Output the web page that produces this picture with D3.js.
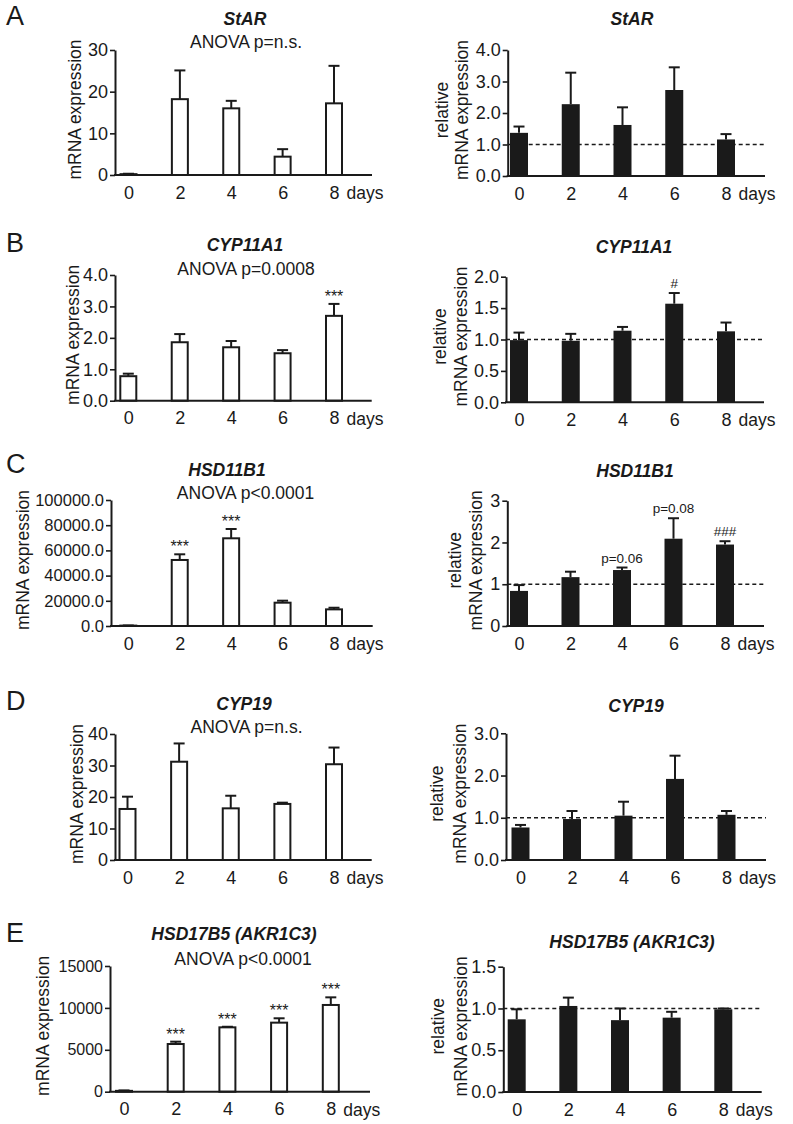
<!DOCTYPE html>
<html>
<head>
<meta charset="utf-8">
<script src="https://cdn.jsdelivr.net/npm/d3@7"></script>
<style>
  html, body { margin: 0; padding: 0; background: #fff; }
  svg { display: block; }
  text { font-family: "Liberation Sans", Arial, Helvetica, sans-serif; fill: #1a1a1a; }
</style>
</head>
<body>
<svg id="chart" width="793" height="1124"></svg>
<script>
// ---------------- DATA ----------------
const days = [0, 2, 4, 6, 8];

// A: StAR
const starMean = [0.2, 18.2, 16.0, 4.4, 17.2];
const starSem = [0.1, 6.9, 1.8, 1.8, 9.0];
const starTicks = [0, 10, 20, 30];
const starRelMean = [1.37, 2.28, 1.62, 2.73, 1.16];
const starRelSem = [0.20, 1.00, 0.56, 0.72, 0.17];
const starRelTicks = [0, 1, 2, 3, 4];

// B: CYP11A1
const cypMean = [0.78, 1.86, 1.70, 1.51, 2.70];
const cypSem = [0.08, 0.26, 0.20, 0.10, 0.38];
const cypTicks = [0, 1, 2, 3, 4];
const cypRelMean = [0.99, 0.98, 1.14, 1.57, 1.13];
const cypRelSem = [0.12, 0.11, 0.06, 0.17, 0.14];
const cypRelTicks = [0, 0.5, 1, 1.5, 2];

// C: HSD11B1
const hsdMean = [300, 52400, 69600, 18500, 13200];
const hsdSem = [100, 4500, 7400, 1600, 1300];
const hsdTicks = [0, 20000, 40000, 60000, 80000, 100000];
const hsdRelMean = [0.84, 1.17, 1.34, 2.09, 1.95];
const hsdRelSem = [0.14, 0.13, 0.06, 0.49, 0.08];
const hsdRelTicks = [0, 1, 2, 3];

// D: CYP19
const cyp19Mean = [16.2, 31.2, 16.4, 17.8, 30.4];
const cyp19Sem = [3.9, 5.8, 4.0, 0.4, 5.3];
const cyp19Ticks = [0, 10, 20, 30, 40];
const cyp19RelMean = [0.77, 0.97, 1.05, 1.92, 1.07];
const cyp19RelSem = [0.06, 0.19, 0.33, 0.55, 0.09];
const cyp19RelTicks = [0, 1, 2, 3];

// E: HSD17B5 (AKR1C3)
const akrMean = [100, 5690, 7680, 8240, 10350];
const akrSem = [50, 280, 70, 520, 910];
const akrTicks = [0, 5000, 10000, 15000];
const akrRelMean = [0.87, 1.03, 0.86, 0.89, 0.99];
const akrRelSem = [0.12, 0.10, 0.14, 0.07, 0.01];
const akrRelTicks = [0, 0.5, 1, 1.5];

// titles / annotations
const panelLetters = ["A", "B", "C", "D", "E"];
const geneNames = ["StAR", "CYP11A1", "HSD11B1", "CYP19", "HSD17B5 (AKR1C3)"];
const anovaTexts = ["ANOVA p=n.s.", "ANOVA p=0.0008", "ANOVA p<0.0001", "ANOVA p=n.s.", "ANOVA p<0.0001"];
const cypMarks = [{day: 8, text: "***"}];
const cypRelMarks = [{day: 6, text: "#"}];
const hsdMarks = [{day: 2, text: "***"}, {day: 4, text: "***"}];
const hsdRelMarks = [{day: 4, text: "p=0.06"}, {day: 6, text: "p=0.08"}, {day: 8, text: "###"}];
const akrMarks = [{day: 2, text: "***"}, {day: 4, text: "***"}, {day: 6, text: "***"}, {day: 8, text: "***"}];

// ---------------- LAYOUT ----------------
const panels = [
  // row A
  {mean: starMean, sem: starSem, ticks: starTicks, fmt: "d", rel: false, marks: [],
   top: 50, bottom: 175, axisX: 115, endX: 372, c0: 128.5, c8: 334, tickFont: 18,
   title: geneNames[0], titleX: 245, titleY: 25, anova: anovaTexts[0], anovaX: 246, anovaY: 48, ylx: [75]},
  {mean: starRelMean, sem: starRelSem, ticks: starRelTicks, fmt: ".1f", rel: true, marks: [],
   top: 50, bottom: 176, axisX: 507.7, endX: 765, c0: 519, c8: 726, tickFont: 18,
   title: geneNames[0], titleX: 632, titleY: 25, ylx: [441.5, 461.5]},
  // row B
  {mean: cypMean, sem: cypSem, ticks: cypTicks, fmt: ".1f", rel: false, marks: cypMarks,
   top: 275, bottom: 400.7, axisX: 115, endX: 371.7, c0: 128.3, c8: 334, tickFont: 18,
   title: geneNames[1], titleX: 245, titleY: 250.5, anova: anovaTexts[1], anovaX: 246, anovaY: 275, ylx: [73]},
  {mean: cypRelMean, sem: cypRelSem, ticks: cypRelTicks, fmt: ".1f", rel: true, marks: cypRelMarks,
   top: 276.7, bottom: 402.3, axisX: 506, endX: 764, c0: 519, c8: 726, tickFont: 18,
   title: geneNames[1], titleX: 634, titleY: 253, ylx: [440, 461]},
  // row C
  {mean: hsdMean, sem: hsdSem, ticks: hsdTicks, fmt: ".1f", rel: false, marks: hsdMarks,
   top: 500, bottom: 626, axisX: 111, endX: 372.7, c0: 128.3, c8: 334, tickFont: 16.5,
   title: geneNames[2], titleX: 227, titleY: 476, anova: anovaTexts[2], anovaX: 245.5, anovaY: 499, ylx: [23]},
  {mean: hsdRelMean, sem: hsdRelSem, ticks: hsdRelTicks, fmt: "d", rel: true, marks: hsdRelMarks,
   top: 500.7, bottom: 626, axisX: 507.3, endX: 764, c0: 519, c8: 725, tickFont: 18,
   title: geneNames[2], titleX: 635, titleY: 476.5, ylx: [455, 476]},
  // row D
  {mean: cyp19Mean, sem: cyp19Sem, ticks: cyp19Ticks, fmt: "d", rel: false, marks: [],
   top: 734, bottom: 860, axisX: 115, endX: 371.7, c0: 127.5, c8: 334, tickFont: 18,
   title: geneNames[3], titleX: 244, titleY: 710, anova: anovaTexts[3], anovaX: 246.5, anovaY: 733, ylx: [77]},
  {mean: cyp19RelMean, sem: cyp19RelSem, ticks: cyp19RelTicks, fmt: ".1f", rel: true, marks: [],
   top: 733.3, bottom: 860, axisX: 506, endX: 766, c0: 520.5, c8: 726.5, tickFont: 18,
   title: geneNames[3], titleX: 636, titleY: 711.5, ylx: [437, 460]},
  // row E
  {mean: akrMean, sem: akrSem, ticks: akrTicks, fmt: "d", rel: false, marks: akrMarks,
   top: 966, bottom: 1091.7, axisX: 110, endX: 370, c0: 124, c8: 330.8, tickFont: 16,
   title: geneNames[4], titleX: 234, titleY: 940, anova: anovaTexts[4], anovaX: 243, anovaY: 965, ylx: [43]},
  {mean: akrRelMean, sem: akrRelSem, ticks: akrRelTicks, fmt: ".1f", rel: true, marks: [],
   top: 966.7, bottom: 1092, axisX: 503.3, endX: 761.7, c0: 516.7, c8: 723.3, tickFont: 18,
   title: geneNames[4], titleX: 632, titleY: 948, ylx: [438, 461]}
];
const letterY = [25, 252, 473, 710, 942];

// ---------------- DRAW ----------------
const svg = d3.select("#chart");
const ink = "#1a1a1a";
const barW = 18;
const capW = 11;

panelLetters.forEach((L, i) => {
  svg.append("text").attr("x", 6).attr("y", letterY[i])
    .attr("font-size", 27).text(L);
});

panels.forEach(p => {
  const g = svg.append("g");
  const ymax = p.ticks[p.ticks.length - 1];
  const y = d3.scaleLinear().domain([0, ymax]).range([p.bottom, p.top]);
  const x = d3.scaleLinear().domain([0, 8]).range([p.c0, p.c8]);

  // dashed reference at 1.0
  if (p.rel) {
    g.append("line")
      .attr("x1", p.axisX).attr("x2", p.endX)
      .attr("y1", y(1)).attr("y2", y(1))
      .attr("stroke", ink).attr("stroke-width", 1.6)
      .attr("stroke-dasharray", "4,3");
  }

  // error bars (upper only)
  const eg = g.append("g").attr("stroke", ink).attr("stroke-width", 2);
  days.forEach((d, i) => {
    const top = y(p.mean[i] + p.sem[i]);
    eg.append("line").attr("x1", x(d)).attr("x2", x(d))
      .attr("y1", y(p.mean[i])).attr("y2", top);
    eg.append("line").attr("x1", x(d) - capW / 2).attr("x2", x(d) + capW / 2)
      .attr("y1", top).attr("y2", top);
  });

  // bars
  g.append("g").selectAll("rect").data(days).join("rect")
    .attr("x", (d) => x(d) - (p.rel ? barW / 2 : barW / 2 - 1))
    .attr("width", p.rel ? barW : barW - 2)
    .attr("y", (d, i) => y(p.mean[i]))
    .attr("height", (d, i) => Math.max(0, p.bottom - y(p.mean[i])))
    .attr("fill", p.rel ? ink : "#fff")
    .attr("stroke", p.rel ? "none" : ink)
    .attr("stroke-width", 2);

  // y axis
  const ya = d3.axisLeft(y).tickValues(p.ticks).tickFormat(d3.format(p.fmt))
    .tickSize(5).tickPadding(2).tickSizeOuter(0);
  const yg = g.append("g").attr("transform", `translate(${p.axisX},0)`).call(ya);
  yg.select(".domain").attr("stroke", ink).attr("stroke-width", 2);
  yg.selectAll(".tick line").attr("stroke", ink).attr("stroke-width", 1.6);
  yg.selectAll(".tick text").attr("font-size", p.tickFont)
    .attr("font-family", "'Liberation Sans', Arial, sans-serif").attr("fill", ink);

  // x axis line
  g.append("line").attr("x1", p.axisX - 1).attr("x2", p.endX)
    .attr("y1", p.bottom).attr("y2", p.bottom)
    .attr("stroke", ink).attr("stroke-width", 2);

  // x labels
  const xa = d3.axisBottom(x).tickValues(days).tickFormat(d3.format("d"))
    .tickSize(0).tickPadding(11);
  const xg = g.append("g").attr("transform", `translate(0,${p.bottom})`).call(xa);
  xg.select(".domain").remove();
  xg.selectAll(".tick text").attr("font-size", 18)
    .attr("font-family", "'Liberation Sans', Arial, sans-serif").attr("fill", ink);
  g.append("text").attr("x", x(8) + 12.5).attr("y", p.bottom + 24)
    .attr("font-size", 17.5).text("days");

  // annotations
  p.marks.forEach(m => {
    const i = days.indexOf(m.day);
    const top = y(p.mean[i] + p.sem[i]);
    const isStar = m.text === "***";
    g.append("text").attr("x", x(m.day)).attr("y", top - (isStar ? 2 : 5))
      .attr("text-anchor", "middle")
      .attr("font-size", isStar ? 16 : 13.5)
      .text(m.text);
  });

  // title
  g.append("text").attr("x", p.titleX).attr("y", p.titleY)
    .attr("text-anchor", "middle").attr("font-size", 17.5)
    .attr("font-weight", "bold").attr("font-style", "italic").text(p.title);
  if (p.anova) {
    g.append("text").attr("x", p.anovaX).attr("y", p.anovaY)
      .attr("text-anchor", "middle").attr("font-size", 17.5).text(p.anova);
  }

  // y labels
  const midY = (p.top + p.bottom) / 2 - 3;
  const lines = p.rel ? ["relative", "mRNA expression"] : ["mRNA expression"];
  lines.forEach((t, k) => {
    g.append("text")
      .attr("transform", `translate(${p.ylx[k]},${midY}) rotate(-90)`)
      .attr("text-anchor", "middle").attr("dy", "0.35em")
      .attr("font-size", 17.5).text(t);
  });
});
</script>
</body>
</html>
